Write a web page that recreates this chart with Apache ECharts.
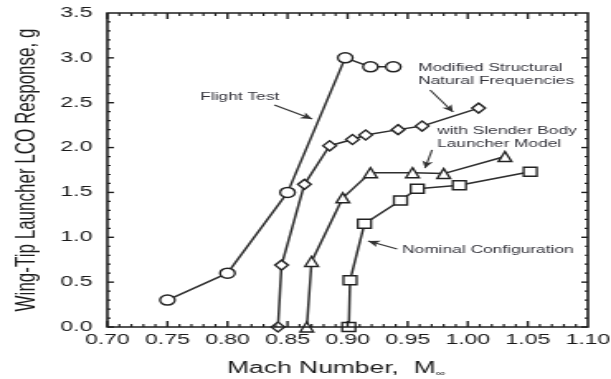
<!DOCTYPE html>
<html>
<head>
<meta charset="utf-8">
<script src="https://cdn.jsdelivr.net/npm/echarts@6/dist/echarts.min.js"></script>
<style>
  html, body { margin: 0; padding: 0; background: #fff; overflow: hidden; }
  #wrap { position: relative; width: 611px; height: 379px; overflow: hidden; }
  /* the figure is laid out narrow and widened horizontally */
  #chart { position: absolute; left: 0; top: 0; width: 370px; height: 379px;
           transform: scaleX(1.6514); transform-origin: 0 0; }
</style>
</head>
<body>
<div id="wrap"><div id="chart"></div></div>
<script>
// Wing-tip launcher LCO response vs Mach number
const flightMach   = [0.75, 0.80, 0.85, 0.898, 0.919, 0.938];
const flightG      = [0.30, 0.60, 1.50, 3.00, 2.90, 2.90];

const modMach      = [0.842, 0.845, 0.864, 0.885, 0.904, 0.915, 0.942, 0.962, 1.009];
const modG         = [0.00, 0.69, 1.59, 2.02, 2.09, 2.14, 2.20, 2.24, 2.44];

const slenderMach  = [0.866, 0.870, 0.896, 0.919, 0.954, 0.980, 1.031];
const slenderG     = [0.00, 0.73, 1.44, 1.72, 1.72, 1.71, 1.90];

const nominalMach  = [0.901, 0.902, 0.914, 0.944, 0.958, 0.993, 1.052];
const nominalG     = [0.00, 0.52, 1.15, 1.41, 1.54, 1.58, 1.73];

const xTicks = [0.70, 0.75, 0.80, 0.85, 0.90, 0.95, 1.00, 1.05, 1.10];
const yTicks = [0.0, 0.5, 1.0, 1.5, 2.0, 2.5, 3.0, 3.5];
const minorPerMajor = 5;

// callout texts, their anchor points and leader arrows (in data units)
const noteTexts  = ['Flight Test', 'Modified Structural\nNatural Frequencies', 'with Slender Body\nLauncher Model', 'Nominal Configuration'];
const noteAnchor = [[0.7773, 2.563], [0.9586, 2.815], [0.9744, 2.107], [0.9453, 0.858]];
const noteArrows = [
  [[0.839, 2.475], [0.8705, 2.318]],
  [[0.9686, 2.642], [0.9877, 2.397]],
  [[0.9703, 1.973], [0.9644, 1.772]],
  [[0.9412, 0.869], [0.9170, 0.959]]
];

const FONT = '"Liberation Sans", Arial, sans-serif';
const INK = '#1e1e1e';
const LINE = '#2e2e2e';
const TEXT = '#1a1a1a';

const zip = (xs, ys) => xs.map((x, i) => [x, ys[i]]);

const xMin = xTicks[0], xMax = xTicks[xTicks.length - 1];
const yMin = yTicks[0], yMax = yTicks[yTicks.length - 1];

function plainAxis(kind, pos, labels) {
  const isX = kind === 'x';
  return {
    type: 'value', position: pos,
    min: isX ? xMin : yMin, max: isX ? xMax : yMax, interval: isX ? 0.05 : 0.5,
    axisLine: { show: false, onZero: false },
    axisTick: { show: false },
    minorTick: { show: false },
    splitLine: { show: false },
    axisLabel: {
      show: labels, margin: isX ? 6 : 9, fontSize: 14, color: TEXT, fontFamily: FONT,
      formatter: v => v.toFixed(isX ? 2 : 1)
    }
  };
}

function seriesDef(name, xs, ys, symbol, size) {
  return {
    name, type: 'line', data: zip(xs, ys), symbol, symbolSize: size,
    showSymbol: true, showAllSymbol: true, z: 3,
    lineStyle: { color: LINE, width: 1.5 },
    itemStyle: { color: '#ffffff', borderColor: '#222', borderWidth: 1.4 },
    emphasis: { disabled: true }
  };
}

const xBottom = plainAxis('x', 'bottom', true);
xBottom.name = '{m|Mach Number,  M}{s|∞}';
xBottom.nameLocation = 'middle';
xBottom.nameGap = 33;
xBottom.nameTextStyle = {
  padding: [0, 14, 0, 0],
  rich: {
    m: { fontSize: 16, color: TEXT, fontFamily: FONT },
    s: { fontSize: 8, color: TEXT, fontFamily: FONT, padding: [10, 0, 0, 0] }
  }
};
const yLeft = plainAxis('y', 'left', true);
yLeft.name = 'Wing-Tip Launcher LCO Response, g';
yLeft.nameLocation = 'middle';
yLeft.nameGap = 40;
yLeft.nameTextStyle = { fontSize: 17, color: TEXT, fontFamily: FONT };

const chart = echarts.init(document.getElementById('chart'));
chart.setOption({
  animation: false,
  grid: { left: 65, right: 14, top: 13, bottom: 52, containLabel: false, outerBoundsMode: 'none' },
  xAxis: [xBottom],
  yAxis: [yLeft],
  series: [
    seriesDef('Flight Test', flightMach, flightG, 'circle', [9, 10]),
    seriesDef('Modified Structural Natural Frequencies', modMach, modG, 'diamond', [8, 10]),
    seriesDef('with Slender Body Launcher Model', slenderMach, slenderG, 'triangle', [8, 10]),
    seriesDef('Nominal Configuration', nominalMach, nominalG, 'rect', [8, 9]),
    {
      type: 'line', data: [], silent: true,
      markLine: {
        silent: true,
        symbol: ['none', 'arrow'], symbolSize: [5, 7],
        label: { show: false },
        lineStyle: { color: '#333', width: 1.1, type: 'solid' },
        data: noteArrows.map(a => [{ coord: a[0] }, { coord: a[1] }])
      }
    }
  ]
});

const toPx = p => chart.convertToPixel({ xAxisIndex: 0, yAxisIndex: 0 }, p);

// plot box with inward major/minor ticks on all four sides
const lo = toPx([xMin, yMin]);
const hi = toPx([xMax, yMax]);
const frameEls = [{
  type: 'rect', silent: true, z: 50,
  shape: { x: lo[0], y: hi[1], width: hi[0] - lo[0], height: lo[1] - hi[1] },
  style: { fill: 'none', stroke: INK, lineWidth: 1.6 }
}];
const tick = (ax, ay, bx, by, w) => frameEls.push({
  type: 'line', silent: true, z: 50,
  shape: { x1: ax, y1: ay, x2: bx, y2: by },
  style: { stroke: INK, lineWidth: w }
});
for (let i = 0; i < xTicks.length - 1; i++) {
  for (let k = 0; k < minorPerMajor; k++) {
    const v = xTicks[i] + (xTicks[i + 1] - xTicks[i]) * k / minorPerMajor;
    const x = toPx([v, yMin])[0];
    const len = k === 0 ? 6 : 3, w = k === 0 ? 1.4 : 1.2;
    tick(x, lo[1], x, lo[1] - len, w);
    tick(x, hi[1], x, hi[1] + len, w);
  }
}
for (let i = 0; i < yTicks.length - 1; i++) {
  for (let k = 0; k < minorPerMajor; k++) {
    const v = yTicks[i] + (yTicks[i + 1] - yTicks[i]) * k / minorPerMajor;
    const y = toPx([xMin, v])[1];
    const len = k === 0 ? 4 : 2, w = k === 0 ? 1.4 : 1.2;
    tick(lo[0], y, lo[0] + len, y, w);
    tick(hi[0], y, hi[0] - len, y, w);
  }
}

// callout labels placed from data coordinates
const noteEls = noteTexts.map((t, i) => {
  const p = toPx(noteAnchor[i]);
  return {
    type: 'text', x: p[0], y: p[1], silent: true, z: 50,
    style: {
      text: t, fill: '#34343c', font: '10.5px ' + FONT,
      align: 'left', verticalAlign: 'middle', lineHeight: 13
    }
  };
});

chart.setOption({ graphic: frameEls.concat(noteEls) });
</script>
</body>
</html>
